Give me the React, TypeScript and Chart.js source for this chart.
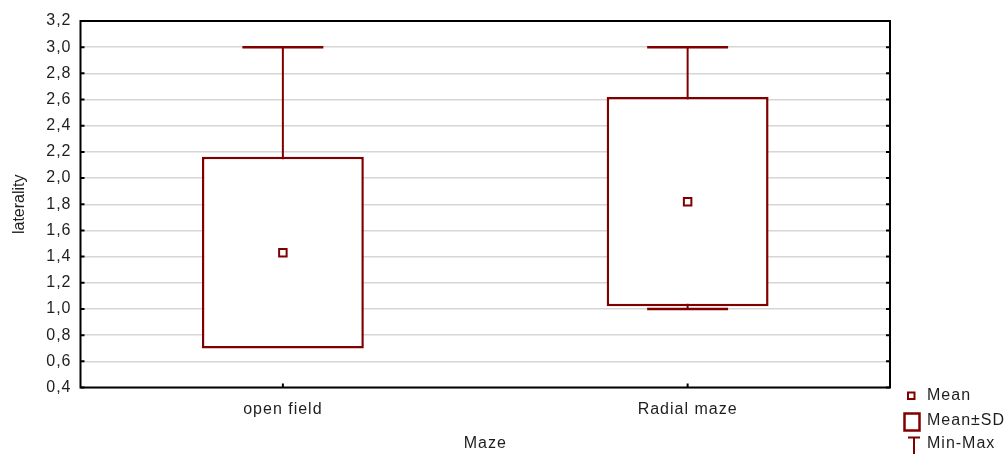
import React, { useEffect, useRef } from "react";
import { Chart, registerables } from "chart.js";

Chart.register(...registerables);

const categories: string[] = ["open field", "Radial maze"];
const means: number[] = [1.43, 1.82];
const sds: number[] = [0.733, 0.8];
const mins: number[] = [1.0, 1.0];
const maxs: number[] = [3.0, 3.0];

const yMin = 0.4;
const yMax = 3.2;
const yStep = 0.2;

const yTitle = "laterality";
const xTitle = "Maze";
const legendLabels: string[] = ["Mean", "Mean±SD", "Min-Max"];

const RED = "#800000";
const TEXT = "#1e1e1e";
const FONT = "'Liberation Sans', Arial, sans-serif";

const spacingPlugin = {
  id: "spacing",
  beforeDraw(chart: any) {
    (chart.ctx as any).letterSpacing = "1px";
  },
};

const whiskerPlugin = {
  id: "whiskers",
  beforeDatasetsDraw(chart: any) {
    const { ctx, scales } = chart;
    const x = scales.x;
    const y = scales.y;
    const catW = (chart.chartArea.right - chart.chartArea.left) / categories.length;
    const capHalf = catW * 0.1;
    ctx.save();
    ctx.strokeStyle = RED;
    categories.forEach((_, i) => {
      const cx = x.getPixelForValue(i);
      const yTop = y.getPixelForValue(maxs[i]);
      const yBot = y.getPixelForValue(mins[i]);
      ctx.lineWidth = 2;
      ctx.beginPath();
      ctx.moveTo(cx, yTop);
      ctx.lineTo(cx, yBot);
      ctx.stroke();
      ctx.lineWidth = 2.5;
      ctx.beginPath();
      ctx.moveTo(cx - capHalf, yTop);
      ctx.lineTo(cx + capHalf, yTop);
      ctx.moveTo(cx - capHalf, yBot);
      ctx.lineTo(cx + capHalf, yBot);
      ctx.stroke();
    });
    ctx.restore();
  },
};

const framePlugin = {
  id: "frame",
  afterDraw(chart: any) {
    const { ctx, chartArea, scales } = chart;
    const { left, right, top, bottom } = chartArea;
    ctx.save();
    ctx.strokeStyle = "#000000";
    ctx.lineWidth = 2;
    ctx.strokeRect(left, top, right - left, bottom - top);
    // inward ticks
    ctx.beginPath();
    scales.y.ticks.forEach((t: any) => {
      const py = scales.y.getPixelForValue(t.value);
      ctx.moveTo(left, py);
      ctx.lineTo(left + 4, py);
      ctx.moveTo(right, py);
      ctx.lineTo(right - 4, py);
    });
    categories.forEach((_, i) => {
      const px = scales.x.getPixelForValue(i);
      ctx.moveTo(px, bottom);
      ctx.lineTo(px, bottom - 4);
    });
    ctx.stroke();

    // y title (no letter spacing)
    ctx.save();
    (ctx as any).letterSpacing = "0px";
    ctx.fillStyle = TEXT;
    ctx.font = `16px ${FONT}`;
    ctx.textAlign = "center";
    ctx.textBaseline = "middle";
    ctx.translate(19.5, (top + bottom) / 2);
    ctx.rotate(-Math.PI / 2);
    ctx.fillText(yTitle, 0, 0);
    ctx.restore();

    // legend
    ctx.strokeStyle = RED;
    ctx.lineWidth = 2;
    ctx.strokeRect(908, 392.5, 6.5, 6.5);
    ctx.lineWidth = 2.5;
    ctx.strokeRect(904.5, 413.5, 15, 17);
    ctx.lineWidth = 2;
    ctx.beginPath();
    ctx.moveTo(908, 437.5);
    ctx.lineTo(920, 437.5);
    ctx.moveTo(914, 437.5);
    ctx.lineTo(914, 454);
    ctx.stroke();

    (ctx as any).letterSpacing = "1px";
    ctx.fillStyle = TEXT;
    ctx.font = `16px ${FONT}`;
    ctx.textAlign = "left";
    ctx.textBaseline = "middle";
    const ys = [396, 421, 444];
    legendLabels.forEach((l, i) => ctx.fillText(l, 927, ys[i]));
    ctx.restore();
  },
};

export default function App() {
  const ref = useRef<HTMLCanvasElement | null>(null);

  useEffect(() => {
    if (!ref.current) return;
    const boxes = means.map((m, i) => [m - sds[i], m + sds[i]]);
    const chart = new Chart(ref.current, {
      type: "bar",
      data: {
        labels: categories,
        datasets: [
          {
            type: "line",
            label: "Mean",
            data: means,
            showLine: false,
            pointStyle: "rect",
            pointRadius: 5.3,
            pointBorderWidth: 2,
            pointBackgroundColor: "#ffffff",
            pointBorderColor: RED,
            order: 0,
          } as any,
          {
            type: "bar",
            label: "Mean±SD",
            data: boxes as any,
            backgroundColor: "#ffffff",
            borderColor: RED,
            borderWidth: 2.5,
            borderSkipped: false,
            barPercentage: 0.4,
            categoryPercentage: 1.0,
            order: 1,
          } as any,
        ],
      },
      options: {
        responsive: false,
        animation: false,
        devicePixelRatio: 1,
        layout: { padding: { top: 21, right: 116, left: 0, bottom: 0 } },
        plugins: {
          legend: { display: false },
          tooltip: { enabled: false },
        },
        scales: {
          x: {
            type: "category",
            grid: { display: false, drawTicks: false },
            border: { display: false },
            ticks: {
              padding: 12,
              color: TEXT,
              font: { family: FONT, size: 16 },
              maxRotation: 0,
            },
            title: {
              display: true,
              text: xTitle,
              color: TEXT,
              font: { family: FONT, size: 16 },
              padding: { top: 0, bottom: 1 },
            },
            afterFit: (s: any) => {
              s.height = 66.5;
            },
          },
          y: {
            type: "linear",
            min: yMin,
            max: yMax,
            grid: {
              color: "#d6d6d6",
              lineWidth: 1.5,
              drawTicks: false,
            },
            border: { display: false },
            ticks: {
              stepSize: yStep,
              padding: 9,
              color: TEXT,
              font: { family: FONT, size: 16 },
              callback: (v: any) => Number(v).toFixed(1).replace(".", ","),
            },
            title: { display: false },
            afterFit: (s: any) => {
              s.width = 80.5;
            },
          },
        },
      },
      plugins: [spacingPlugin, whiskerPlugin, framePlugin],
    });
    return () => chart.destroy();
  }, []);

  return (
    <div style={{ position: "fixed", left: 0, top: 0, width: 1006, height: 454, background: "#ffffff" }}>
      <canvas ref={ref} width={1006} height={454} style={{ width: 1006, height: 454, display: "block" }} />
    </div>
  );
}
